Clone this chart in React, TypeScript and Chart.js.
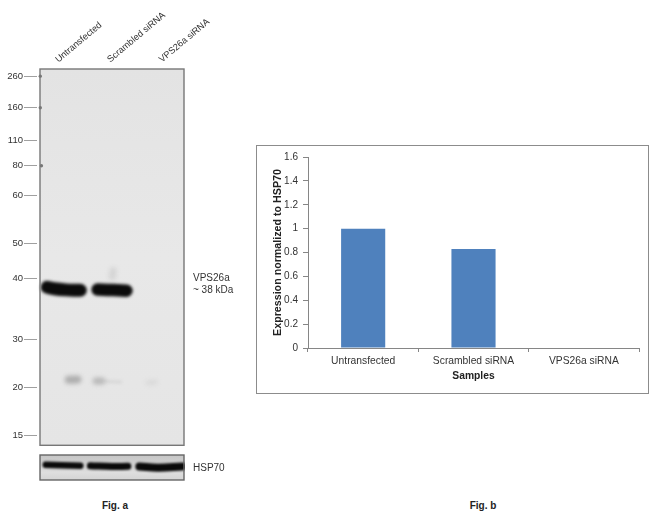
import React, { useEffect, useRef } from "react";
import { Chart, registerables } from "chart.js";

Chart.register(...registerables);

const FONT = '"Liberation Sans", Arial, sans-serif';
const TEXT = "#333333";

// Fig. b: densitometry
const samples = ["Untransfected", "Scrambled siRNA", "VPS26a siRNA"];
const expression = [1.0, 0.83, 0.0];

// Fig. a: ladder, in kDa and % of gel length migrated
const ladderKDa = [260, 160, 110, 80, 60, 50, 40, 30, 20, 15];
const ladderMigration = [1.9, 10.3, 19.1, 25.7, 33.7, 46.4, 55.7, 71.9, 84.6, 97.3];
// lane label positions, % of gel width
const laneLabelPos = [16.6, 52.6, 88.6];

// bands as [% gel width, % gel length]
const vpsBand1 = [{ x: 5, y: 58.0 }, { x: 10, y: 58.4 }, { x: 18, y: 58.7 }, { x: 26, y: 58.8 }, { x: 28, y: 58.8 }];
const vpsBand2 = [{ x: 40, y: 58.6 }, { x: 47, y: 58.7 }, { x: 54, y: 58.8 }, { x: 60, y: 58.9 }];
const spot1 = [{ x: 20, y: 82.6 }, { x: 26, y: 82.5 }];
const spot2 = [{ x: 39, y: 82.9 }, { x: 43, y: 82.9 }];
const spot2Tail = [{ x: 46, y: 83 }, { x: 56, y: 83.2 }];
const spot3 = [{ x: 75, y: 83.4 }, { x: 80, y: 83.2 }];
const smear = [{ x: 50.8, y: 53.6 }, { x: 50.2, y: 55.2 }];
const ladderDots = [{ x: 0.2, y: 1.9 }, { x: 0.2, y: 10.3 }, { x: 1, y: 25.7 }];

// loading control bands, [% gel width, % strip height]
const hspBand1 = [{ x: 4, y: 39 }, { x: 15, y: 41 }, { x: 28, y: 43 }];
const hspBand2 = [{ x: 35, y: 43 }, { x: 50, y: 46 }, { x: 61, y: 45 }];
const hspBand3 = [{ x: 69, y: 46 }, { x: 82, y: 51 }, { x: 99, y: 46 }];

const blurPlugin = {
  id: "bandBlur",
  beforeDatasetDraw(chart: any, args: any) {
    const b = (chart.data.datasets[args.index] as any).blur;
    chart.ctx.save();
    if (b) chart.ctx.filter = `blur(${b}px)`;
  },
  afterDatasetDraw(chart: any) {
    chart.ctx.restore();
  },
};

const membranePlugin = {
  id: "membrane",
  beforeDatasetsDraw(chart: any, _a: any, o: any) {
    const { ctx, chartArea: c, scales } = chart;
    const l = scales.x.getPixelForValue(0);
    const r = scales.x.getPixelForValue(100);
    const grad = ctx.createLinearGradient(0, c.top, 0, c.bottom);
    o.stops.forEach((s: [number, string]) => grad.addColorStop(s[0], s[1]));
    ctx.save();
    ctx.fillStyle = grad;
    ctx.fillRect(l, c.top, r - l, c.bottom - c.top);
    ctx.restore();
  },
  afterDatasetsDraw(chart: any, _a: any, o: any) {
    const { ctx, chartArea: c, scales } = chart;
    const l = scales.x.getPixelForValue(0);
    const r = scales.x.getPixelForValue(100);
    ctx.save();
    ctx.strokeStyle = o.border;
    ctx.lineWidth = 1.4;
    ctx.strokeRect(l, c.top, r - l, c.bottom - c.top);
    ctx.restore();
  },
};

const band = (data: any[], color: string, width: number, blur: number) => ({
  data,
  showLine: true,
  borderColor: color,
  borderWidth: width,
  borderCapStyle: "round",
  borderJoinStyle: "round",
  tension: 0.4,
  pointRadius: 0,
  clip: false,
  blur,
});

function useChart(ref: React.RefObject<HTMLCanvasElement | null>, make: (c: HTMLCanvasElement) => Chart) {
  useEffect(() => {
    const chart = make(ref.current!);
    return () => chart.destroy();
  }, []);
}

const base = { animation: false as const, responsive: false, plugins: { legend: { display: false }, tooltip: { enabled: false } } };

export default function App() {
  const blot = useRef<HTMLCanvasElement>(null);
  const strip = useRef<HTMLCanvasElement>(null);
  const bars = useRef<HTMLCanvasElement>(null);

  useChart(blot, (c) =>
    new Chart(c, {
      type: "scatter",
      plugins: [membranePlugin, blurPlugin],
      data: {
        datasets: [
          band(smear, "rgba(170,170,170,0.3)", 7, 2),
          band(spot1, "rgba(120,120,120,0.5)", 8, 2),
          band(spot2, "rgba(130,130,130,0.45)", 7, 2),
          band(spot2Tail, "rgba(170,170,170,0.25)", 3, 1.5),
          band(spot3, "rgba(170,170,170,0.2)", 5, 2),
          band(ladderDots, "rgba(0,0,0,0)", 0, 0.7),
          band(vpsBand1, "#0b0b0b", 13, 1.6),
          band(vpsBand2, "#0b0b0b", 12.5, 1.6),
        ].map((d, i) =>
          i === 5
            ? { ...d, showLine: false, pointRadius: 1.7, pointBackgroundColor: "#777", pointBorderWidth: 0 }
            : d
        ) as any,
      },
      options: {
        ...base,
        layout: { padding: { left: 0, right: 66, top: 0, bottom: 5 } },
        plugins: { ...base.plugins, membrane: { border: "#777777", stops: [[0, "#e3e3e3"], [0.5, "#e8e8e8"], [1, "#e5e5e5"]] } } as any,
        scales: {
          x: {
            type: "linear",
            position: "top",
            min: -2.08,
            max: 100,
            afterFit: (s: any) => { s.height = 69; },
            afterBuildTicks: (s: any) => { s.ticks = laneLabelPos.map((value) => ({ value })); },
            grid: { display: false },
            border: { display: false },
            ticks: {
              autoSkip: false,
              minRotation: 40,
              maxRotation: 40,
              padding: -4,
              color: TEXT,
              font: { family: FONT, size: 9.2 },
              callback: (v: any) => samples[laneLabelPos.indexOf(v)],
            },
          },
          y: {
            type: "linear",
            reverse: true,
            min: 0,
            max: 100,
            afterFit: (s: any) => { s.width = 37; },
            afterBuildTicks: (s: any) => { s.ticks = ladderMigration.map((value) => ({ value })); },
            grid: { drawOnChartArea: false, drawTicks: true, tickLength: 13, tickColor: "#a0a0a0", tickWidth: 1 },
            border: { display: false },
            ticks: {
              autoSkip: false,
              padding: 1,
              color: TEXT,
              font: { family: FONT, size: 9.5 },
              callback: (v: any) => String(ladderKDa[ladderMigration.indexOf(v)]),
            },
          },
        },
      },
    } as any)
  );

  useChart(strip, (c) =>
    new Chart(c, {
      type: "scatter",
      plugins: [membranePlugin, blurPlugin],
      data: {
        datasets: [
          band(hspBand1, "#0a0a0a", 6.5, 1),
          band(hspBand2, "#0a0a0a", 7, 1),
          band(hspBand3, "#0a0a0a", 8, 1),
        ] as any,
      },
      options: {
        ...base,
        layout: { padding: { left: 40, right: 1, top: 3, bottom: 3 } },
        plugins: { ...base.plugins, membrane: { border: "#666666", stops: [[0, "#c6c6c6"], [0.3, "#cfcfcf"], [0.7, "#dedede"], [1, "#d4d4d4"]] } } as any,
        scales: {
          x: { type: "linear", display: false, min: 0, max: 100 },
          y: { type: "linear", display: false, reverse: true, min: 0, max: 100 },
        },
      },
    } as any)
  );

  useChart(bars, (c) =>
    new Chart(c, {
      type: "bar",
      data: {
        labels: samples,
        datasets: [{ data: expression, backgroundColor: "#4f81bd", categoryPercentage: 1, barPercentage: 0.4 }],
      },
      options: {
        ...base,
        layout: { padding: { left: 0, right: 10, top: 10, bottom: 0 } },
        scales: {
          x: {
            afterFit: (s: any) => { s.height = 46; },
            grid: { offset: true, drawOnChartArea: false, tickLength: 4, tickColor: "#868686" },
            border: { color: "#868686" },
            ticks: { padding: 3, color: TEXT, font: { family: FONT, size: 10.3 } },
            title: { display: true, text: "Samples", color: "#222", font: { family: FONT, size: 10.3, weight: "bold" }, padding: { top: 0, bottom: 12 } },
          },
          y: {
            min: 0,
            max: 1.6,
            afterFit: (s: any) => { s.width = 51; },
            grid: { drawOnChartArea: false, tickLength: 5, tickColor: "#868686" },
            border: { color: "#868686" },
            ticks: { stepSize: 0.2, padding: 5, color: TEXT, font: { family: FONT, size: 10 }, callback: (v: any) => String(Math.round(Number(v) * 10) / 10) },
            title: { display: true, text: "Expression normalized to HSP70", color: "#222", font: { family: FONT, size: 10.7, weight: "bold" }, padding: { top: 15, bottom: 0 } },
          },
        },
      },
    } as any)
  );

  const label = (text: string, left: number, cy: number, bold = false, center = false): React.ReactNode => (
    <div
      style={{
        position: "absolute",
        left,
        top: cy - 7,
        height: 14,
        font: `${bold ? "bold " : ""}10px/14px ${FONT}`,
        color: bold ? "#222" : TEXT,
        whiteSpace: "nowrap",
        transform: center ? "translateX(-50%)" : undefined,
      }}
    >
      {text}
    </div>
  );

  return (
    <div style={{ position: "absolute", left: 0, top: 0, width: 650, height: 517, overflow: "hidden", background: "#fff" }}>
      <canvas ref={blot} width={250} height={452} style={{ position: "absolute", left: 0, top: 0 }} />
      <canvas ref={strip} width={185} height={31} style={{ position: "absolute", left: 0, top: 452 }} />
      <div style={{ position: "absolute", left: 256, top: 145, width: 393, height: 249, boxSizing: "border-box", border: "1px solid #8c8c8c" }} />
      <canvas ref={bars} width={392} height={248} style={{ position: "absolute", left: 257, top: 146 }} />
      {label("VPS26a", 193, 278)}
      {label("~ 38 kDa", 193, 289.5)}
      {label("HSP70", 193, 467.5)}
      {label("Fig. a", 115, 506, true, true)}
      {label("Fig. b", 483, 506, true, true)}
    </div>
  );
}
